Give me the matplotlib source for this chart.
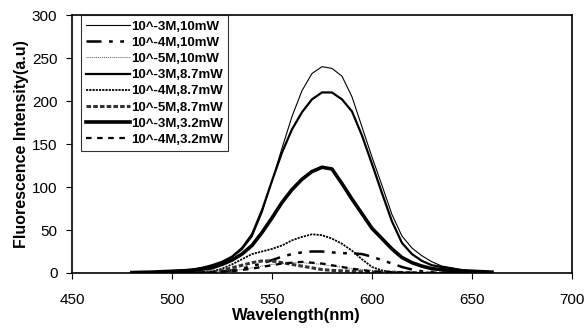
import matplotlib
matplotlib.use("Agg")
import matplotlib.pyplot as plt

plt.rcParams['font.family'] = ['Liberation Sans', 'DejaVu Sans']

wl = [480, 485, 490, 495, 500, 505, 510, 515, 520, 525, 530, 535, 540, 545, 550,
      555, 560, 565, 570, 575, 580, 585, 590, 595, 600, 605, 610, 615, 620, 625,
      630, 635, 640, 645, 650, 655, 660]

s_3M_10 = [0.5, 0.8, 1, 1.5, 2, 3, 4, 6, 8, 12, 18, 27, 42, 70, 107,
           145, 182, 212, 232, 240, 238, 229, 205, 170, 135, 102, 68, 43, 29, 20,
           13, 8, 6, 4, 3, 2, 1]
s_4M_10 = [0, 0, 0, 0, 0.5, 0.5, 1, 1, 1, 2, 3, 5, 8, 11, 15,
           19, 22, 24, 25, 25, 24, 23, 23, 22, 19, 15, 11, 7, 4, 2,
           1, 0.5, 0.5, 0, 0, 0, 0]
s_5M_10 = [0, 0, 0, 0, 0, 0, 0.5, 0.5, 1, 2, 3, 4, 6, 8, 10,
           11, 12, 12, 11, 10, 8, 7, 5, 4, 3, 2, 1.5, 1, 0.5, 0.5,
           0, 0, 0, 0, 0, 0, 0]
s_3M_87 = [0.5, 0.8, 1, 1.5, 2, 3, 4, 6, 9, 13, 19, 29, 45, 73, 107,
           140, 167, 187, 202, 210, 210, 202, 188, 160, 127, 93, 60, 35, 22, 14,
           9, 7, 5, 3, 2, 1.5, 1]
s_4M_87 = [0, 0, 0, 0, 0.5, 0.5, 1, 1, 2, 5, 10, 16, 22, 25, 28,
           32, 38, 42, 45, 44, 40, 34, 26, 16, 7, 3, 1, 0.5, 0.5, 0,
           0, 0, 0, 0, 0, 0, 0]
s_5M_87 = [0, 0, 0, 0, 0, 0.5, 0.5, 1, 1, 3, 6, 9, 12, 14, 14,
           12, 10, 8, 6, 4, 3, 2.5, 2, 1.5, 1, 1, 1, 0.5, 0.5, 0,
           0, 0, 0, 0, 0, 0, 0]
s_3M_32 = [0.5, 0.8, 1, 1.5, 2, 2.5, 3, 4.5, 6, 10, 15, 22, 32, 47, 64,
           82, 97, 109, 118, 123, 121, 104, 86, 69, 52, 40, 28, 18, 12, 8,
           5, 4, 3, 2, 2, 1.5, 1]
s_4M_32 = [0, 0, 0, 0, 0, 0, 0.5, 0.5, 1, 1.5, 2, 3.5, 5, 7, 9,
           11, 12, 13, 12, 11, 9, 7, 5, 3.5, 2, 1.5, 1, 0.5, 0, 0,
           0, 0, 0, 0, 0, 0, 0]

labels = ["10^-3M,10mW", "10^-4M,10mW", "10^-5M,10mW", "10^-3M,8.7mW",
          "10^-4M,8.7mW", "10^-5M,8.7mW", "10^-3M,3.2mW", "10^-4M,3.2mW"]
series = [s_3M_10, s_4M_10, s_5M_10, s_3M_87, s_4M_87, s_5M_87, s_3M_32, s_4M_32]
styles = [
    dict(ls='-', lw=0.8, color='black'),
    dict(ls=(0, (6, 3, 1.5, 3, 1.5, 3)), lw=1.8, color='black'),
    dict(ls=(0, (1, 1)), lw=0.7, color='#555555'),
    dict(ls='-', lw=1.6, color='black'),
    dict(ls=(0, (1.2, 0.6)), lw=1.3, color='black'),
    dict(ls=(0, (1.5, 0.7)), lw=2.2, color='#333333'),
    dict(ls='-', lw=2.6, color='black'),
    dict(ls=(0, (2.5, 2.5)), lw=1.6, color='black'),
]

fig = plt.figure(figsize=(5.88, 3.28), dpi=100)
ax = fig.add_axes([0.1224, 0.1677, 0.8503, 0.7863])

for lab, ys, st in zip(labels, series, styles):
    ax.plot(wl, ys, label=lab, **st)

ax.set_xlim(450, 700)
ax.set_ylim(0, 300)
ax.set_xticks([450, 500, 550, 600, 650, 700])
ax.set_yticks([0, 50, 100, 150, 200, 250, 300])
ax.tick_params(direction='out', length=4.5, width=0.8, labelsize=11)
ax.tick_params(axis='x', pad=10)
ax.tick_params(axis='y', pad=6)
for sp in ax.spines.values():
    sp.set_linewidth(1.2)

ax.set_xlabel("Wavelength(nm)", fontsize=12, fontweight='bold')
ax.xaxis.set_label_coords(0.448, -0.135)
ax.set_ylabel("Fluorescence Intensity(a.u)", fontsize=11.5, fontweight='bold')
ax.yaxis.set_label_coords(-0.085, 0.5)

leg = ax.legend(loc='upper left', bbox_to_anchor=(0.018, 1.0), borderaxespad=0,
                fancybox=False, frameon=True, handlelength=3.3, handletextpad=0.1,
                labelspacing=0.3, borderpad=0.4,
                prop={'weight': 'bold', 'size': 9.5})
leg.get_frame().set_edgecolor('black')
leg.get_frame().set_linewidth(0.8)

fig.savefig("out.png", dpi=100)
